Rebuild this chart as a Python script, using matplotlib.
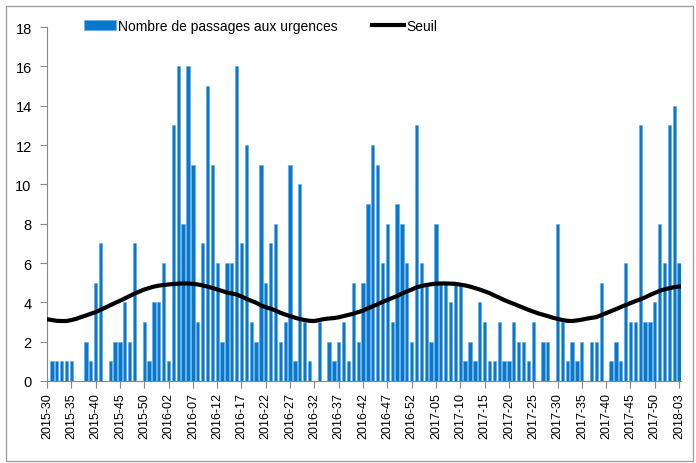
import numpy as np
import matplotlib
matplotlib.use('Agg')
import matplotlib.pyplot as plt
from matplotlib.patches import Rectangle

plt.rcParams['font.family'] = ['Liberation Sans', 'DejaVu Sans']

# semaines 2015-30 .. 2018-03
weeks = ([f'2015-{w:02d}' for w in range(30, 54)] +
         [f'2016-{w:02d}' for w in range(1, 53)] +
         [f'2017-{w:02d}' for w in range(1, 53)] +
         [f'2018-{w:02d}' for w in range(1, 4)])

passages = [0, 1, 1, 1, 1, 1, 0, 0, 2, 1, 5, 7, 0, 1, 2, 2, 4, 2, 7, 0,
            3, 1, 4, 4, 6, 1, 13, 16, 8, 16, 11, 3, 7, 15, 11, 6, 2, 6, 6, 16,
            7, 12, 3, 2, 11, 5, 7, 8, 2, 3, 11, 1, 10, 3, 1, 0, 3, 0, 2, 1,
            2, 3, 1, 5, 2, 5, 9, 12, 11, 6, 8, 3, 9, 8, 6, 2, 13, 6, 5, 2,
            8, 5, 5, 4, 5, 5, 1, 2, 1, 4, 3, 1, 1, 3, 1, 1, 3, 2, 2, 1,
            3, 0, 2, 2, 0, 8, 3, 1, 2, 1, 2, 0, 2, 2, 5, 0, 1, 2, 1, 6,
            3, 3, 13, 3, 3, 4, 8, 6, 13, 14, 6]

seuil = [3.14, 3.10, 3.06, 3.05, 3.05, 3.10, 3.16, 3.25, 3.33, 3.42,
         3.50, 3.62, 3.73, 3.85, 3.97, 4.08, 4.20, 4.32, 4.44, 4.55,
         4.65, 4.73, 4.80, 4.85, 4.88, 4.91, 4.93, 4.95, 4.96, 4.96,
         4.94, 4.91, 4.86, 4.80, 4.73, 4.66, 4.58, 4.50, 4.45, 4.40,
         4.30, 4.18, 4.08, 3.98, 3.85, 3.75, 3.68, 3.58, 3.47, 3.38,
         3.30, 3.22, 3.15, 3.10, 3.06, 3.05, 3.10, 3.15, 3.18, 3.20,
         3.24, 3.30, 3.36, 3.42, 3.50, 3.58, 3.70, 3.80, 3.90, 4.02,
         4.12, 4.22, 4.32, 4.45, 4.55, 4.65, 4.76, 4.83, 4.88, 4.92,
         4.95, 4.96, 4.96, 4.95, 4.94, 4.90, 4.86, 4.80, 4.73, 4.65,
         4.56, 4.47, 4.35, 4.24, 4.12, 4.02, 3.92, 3.82, 3.72, 3.62,
         3.53, 3.44, 3.37, 3.30, 3.22, 3.16, 3.10, 3.06, 3.05, 3.08,
         3.12, 3.17, 3.21, 3.25, 3.35, 3.45, 3.55, 3.65, 3.76, 3.86,
         3.96, 4.06, 4.15, 4.25, 4.37, 4.48, 4.58, 4.66, 4.72, 4.77,
         4.80]

x = np.arange(len(weeks))

fig = plt.figure(figsize=(6.96, 4.64), dpi=100)
ax = fig.add_axes([47/696, 1-382/464, (681-47)/696, (382-28)/464])

bars = ax.bar(x, passages, width=0.68, color='#0878CF', edgecolor='#5AA8E4', linewidth=0.4,
              label='Nombre de passages aux urgences', zorder=2)
line, = ax.plot(x, seuil, color='black', linewidth=3, label='Seuil', zorder=3)

ax.set_xlim(0, 130.4)
ax.set_ylim(0, 18)
ax.set_yticks(range(0, 19, 2))
ax.set_xticks(x[::5])
ax.set_xticklabels(weeks[::5], rotation=90, fontsize=9)
ax.tick_params(axis='y', labelsize=10.5, length=5, color='#888888', pad=6)
ax.tick_params(axis='x', length=5, color='#888888', pad=3)

for s in ['top', 'right']:
    ax.spines[s].set_visible(False)
for s in ['left', 'bottom']:
    ax.spines[s].set_color('#888888')
    ax.spines[s].set_linewidth(0.8)

fig.legend(handles=[bars, line], loc='center left', bbox_to_anchor=(84/696, 1-27/464),
           ncol=2, frameon=False, borderpad=0, borderaxespad=0,
           fontsize=10, handlelength=2.3, handletextpad=0.15, columnspacing=2.5)

# bordure du graphique
fig.patches.append(Rectangle((6/696, 2/464), 687/696, 455/464, transform=fig.transFigure,
                             fill=False, edgecolor='#A0A0A0', linewidth=1))

plt.savefig('out.png', dpi=100)
